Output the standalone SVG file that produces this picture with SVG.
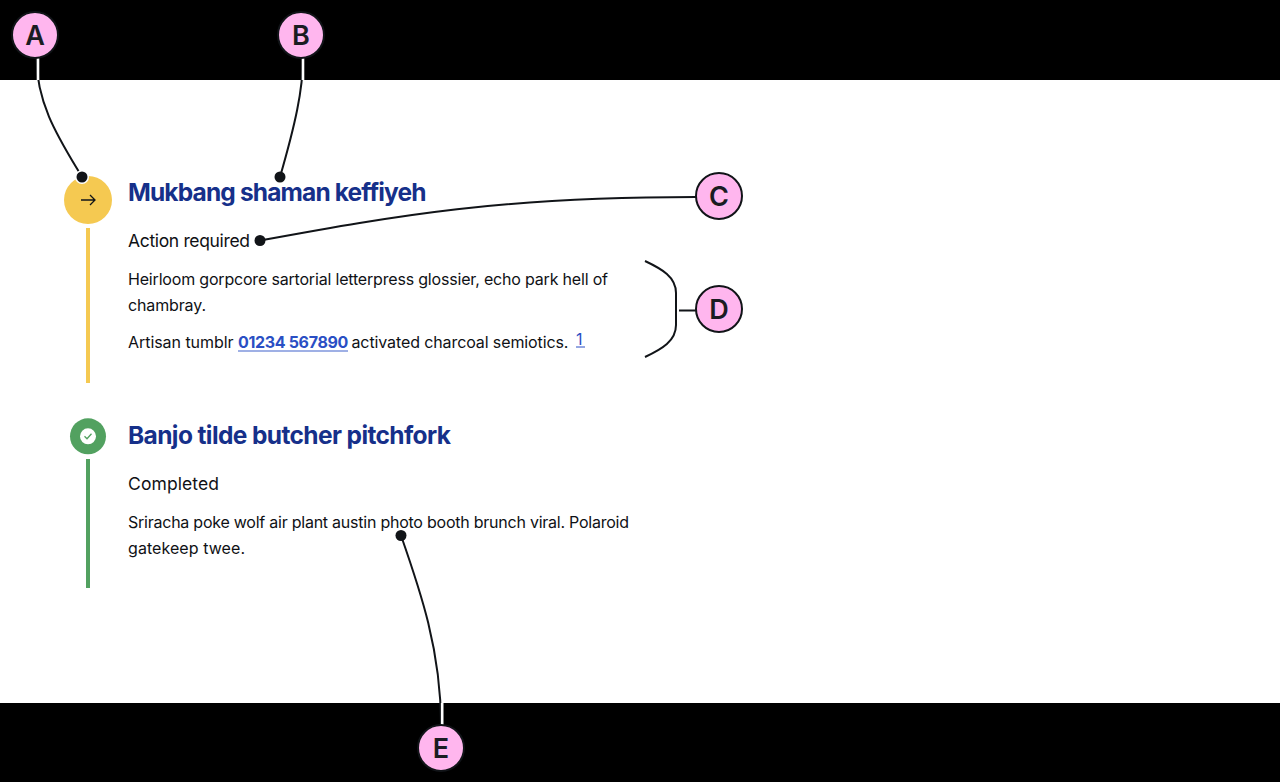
<svg xmlns="http://www.w3.org/2000/svg" width="1280" height="782" viewBox="0 0 1280 782">
<style>
text{font-family:Inter,"Liberation Sans",sans-serif;fill:#0f1115}
.h{font-size:24.500px;font-weight:700;fill:#16308a}
.s{font-size:17.500px}
.b{font-size:16px}
.l{font-weight:700;fill:#2a4fc4}
.bar{stroke-width:4;fill:none}
.stripe{fill:none;stroke:#fff;stroke-width:2.600}
.wire{fill:none;stroke:#111418;stroke-width:2}
.dot{fill:#111418}
.c{fill:#ffb6ee;stroke:#111418;stroke-width:2}
.t{font-size:27px;font-weight:600;text-anchor:middle;fill:#1a1c22}
</style>
<rect width="1280" height="80" fill="#000"/>
<rect y="80" width="1280" height="623" fill="#fff"/>
<rect y="703" width="1280" height="79" fill="#000"/>
<g id="step1">
<circle cx="88" cy="200" r="24" fill="#f5c951"/>
<path d="M81 200H95M90 195L95 200L90 205" fill="none" stroke="#111418" stroke-width="1.300"/>
<path class="bar" d="M88 228V383" stroke="#f5c951"/>
<text class="h" x="128" y="201" textLength="298.500" lengthAdjust="spacing">Mukbang shaman keffiyeh</text>
<text class="s" x="128" y="247" textLength="122" lengthAdjust="spacing">Action required</text>
<text class="b" x="128" y="285" textLength="480" lengthAdjust="spacing">Heirloom gorpcore sartorial letterpress glossier, echo park hell of</text>
<text class="b" x="128" y="311" textLength="78" lengthAdjust="spacing">chambray.</text>
<text class="b" y="348"><tspan x="128" letter-spacing="-.05">Artisan tumblr</tspan> <tspan x="238" class="l" letter-spacing="-.33">01234 567890</tspan> <tspan x="351.500" letter-spacing="-.11">activated charcoal semiotics.</tspan></text>
<path d="M238 351H348" stroke="#2a4fc4" stroke-opacity=".6" stroke-width="1.500"/>
<text x="576" y="345" font-size="16" style="fill:#2a4fc4">1</text>
<path d="M576 347H585" stroke="#2a4fc4" stroke-width="1"/>
</g>
<g id="step2">
<circle cx="88" cy="436.300" r="18" fill="#52a160"/>
<circle cx="88" cy="436.300" r="8" fill="#fff"/>
<path d="M84.500 436.300L87 438.800L91.500 433.800" fill="none" stroke="#52a160" stroke-width="1.300"/>
<path class="bar" d="M88 459V588" stroke="#52a160"/>
<text class="h" x="128" y="444" textLength="323" lengthAdjust="spacing">Banjo tilde butcher pitchfork</text>
<text class="s" x="128" y="490" textLength="91" lengthAdjust="spacing">Completed</text>
<text class="b" x="128" y="528" textLength="501" lengthAdjust="spacing">Sriracha poke wolf air plant austin photo booth brunch viral. Polaroid</text>
<text class="b" x="128" y="554" textLength="117" lengthAdjust="spacing">gatekeep twee.</text>
</g>
<g id="connectors">
<path class="wire" d="M36.500 58C36.500 105 60 140 82 177"/>
<path class="stripe" d="M38 58V80"/>
<circle cx="82" cy="177" r="7" fill="#fff"/>
<circle class="dot" cx="82" cy="177" r="5.500"/>
<path class="wire" d="M303 58C303 90 295 125 280 177"/>
<path class="stripe" d="M303 58V80"/>
<circle class="dot" cx="280" cy="177" r="5.500"/>
<path class="wire" d="M260 240.500C400 215 500 197 696 197"/>
<circle class="dot" cx="260" cy="240.500" r="5.500"/>
<path class="wire" d="M645 261C662 269 676 277 676 293V325C676 341 662 349 645 357M679 310.500H696"/>
<path class="wire" d="M401 535.500C420 590 441 650 441 725"/>
<path class="stripe" d="M442.200 703V725"/>
<circle class="dot" cx="401" cy="535.500" r="5.500"/>
</g>
<g id="A"><circle class="c" cx="35" cy="35" r="23"/><text class="t" x="35" y="45">A</text></g>
<g id="B"><circle class="c" cx="301" cy="35" r="23"/><text class="t" x="301" y="45">B</text></g>
<g id="C"><circle class="c" cx="719" cy="196" r="23"/><text class="t" x="719" y="206">C</text></g>
<g id="D"><circle class="c" cx="719" cy="309" r="23"/><text class="t" x="719" y="319">D</text></g>
<g id="E"><circle class="c" cx="441" cy="748" r="23"/><text class="t" x="441" y="758">E</text></g>
</svg>
